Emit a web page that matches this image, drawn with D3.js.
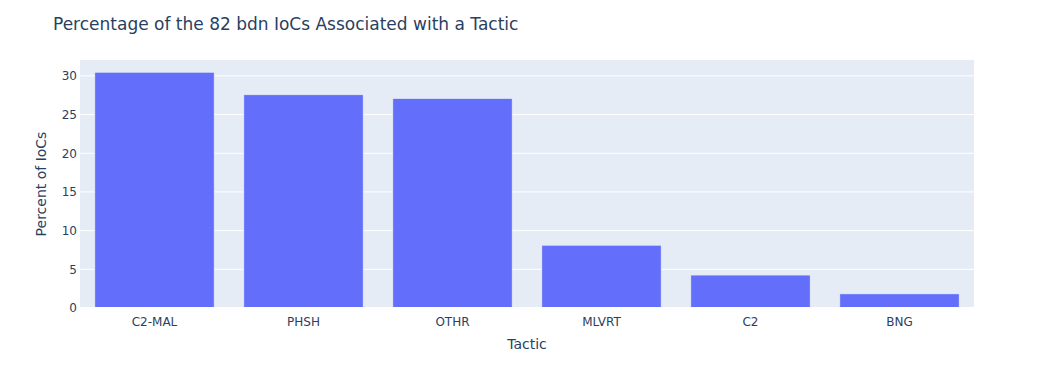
<!DOCTYPE html>
<html>
<head>
<meta charset="utf-8">
<script src="https://cdn.jsdelivr.net/npm/d3@7"></script>
<style>
  body { margin: 0; background: #fff; }
  text { font-family: "DejaVu Sans", Verdana, sans-serif; fill: #2a3f5f; }
</style>
</head>
<body>
<div id="chart"></div>
<script>
// Dữ liệu
const tactics = ["C2-MAL", "PHSH", "OTHR", "MLVRT", "C2", "BNG"];
const percents = [30.45, 27.55, 27.05, 8.1, 4.25, 1.82];
const yTicks = [0, 5, 10, 15, 20, 25, 30];

const W = 1054, H = 388;
const margin = { top: 60, right: 80, bottom: 80, left: 80 };
const width = W - margin.left - margin.right,
      height = H - margin.top - margin.bottom;

const svg = d3.select("#chart").append("svg")
  .attr("width", W).attr("height", H);

// Tiêu đề
svg.append("text")
  .attr("x", 53).attr("y", 30)
  .style("font-size", "17px")
  .text("Percentage of the 82 bdn IoCs Associated with a Tactic");

const g = svg.append("g")
  .attr("transform", `translate(${margin.left},${margin.top})`);

g.append("rect").attr("width", width).attr("height", height).attr("fill", "#e5ecf6");

const x = d3.scaleBand().domain(tactics).range([0, width]).paddingInner(0.2).paddingOuter(0.1);
const y = d3.scaleLinear().domain([0, d3.max(percents) / 0.95]).range([height, 0]);

// Lưới
g.selectAll("line.grid")
  .data(yTicks.filter(d => d > 0))
  .enter().append("line")
    .attr("x1", 0).attr("x2", width)
    .attr("y1", d => y(d)).attr("y2", d => y(d))
    .attr("stroke", "#fff").attr("stroke-width", 1);

// Cột
g.selectAll("rect.bar")
  .data(tactics)
  .enter().append("rect")
    .attr("x", d => x(d))
    .attr("width", x.bandwidth())
    .attr("y", (d, i) => y(percents[i]))
    .attr("height", (d, i) => y(0) - y(percents[i]))
    .attr("fill", "#636efa")
    .attr("stroke", "#e5ecf6").attr("stroke-width", 0.5);

// Đường zero
g.append("line")
  .attr("x1", 0).attr("x2", width)
  .attr("y1", y(0)).attr("y2", y(0))
  .attr("stroke", "#fff").attr("stroke-width", 2);

// Trục Y
g.selectAll("text.ytick")
  .data(yTicks)
  .enter().append("text")
    .attr("x", -3).attr("y", d => y(d))
    .attr("dy", "0.36em")
    .attr("text-anchor", "end")
    .style("font-size", "12px")
    .text(d => d);

// Trục X
g.selectAll("text.xtick")
  .data(tactics)
  .enter().append("text")
    .attr("x", d => x(d) + x.bandwidth() / 2)
    .attr("y", height + 18)
    .attr("text-anchor", "middle")
    .style("font-size", "12px")
    .text(d => d);

// Nhãn trục
svg.append("text")
  .attr("x", margin.left + width / 2).attr("y", 349)
  .attr("text-anchor", "middle")
  .style("font-size", "14px")
  .text("Tactic");

svg.append("text")
  .attr("transform", `translate(46,${margin.top + height / 2}) rotate(-90)`)
  .attr("text-anchor", "middle")
  .style("font-size", "14px")
  .text("Percent of IoCs");
</script>
</body>
</html>
